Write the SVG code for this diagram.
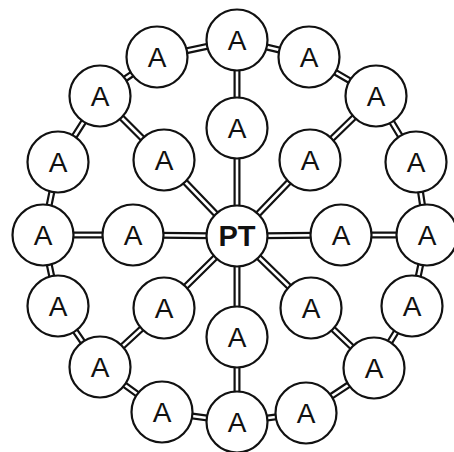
<svg xmlns="http://www.w3.org/2000/svg" width="454" height="452" viewBox="0 0 454 452">
<style>
.o{stroke:#111;stroke-width:7;fill:none}
.i{stroke:#fff;stroke-width:2.6;fill:none}
.n circle{fill:#fff;stroke:#111;stroke-width:2.2}
.n text{font-family:"Liberation Sans",Arial,sans-serif;font-size:28px;fill:#111;text-anchor:middle}
#PT text{font-weight:bold;font-size:29px}
</style>
<defs>
<path id="edges" d="M237,236L237,128M237,236L310,160M237,236L341,235M237,236L311,308M237,236L237,337M237,236L164,308M237,236L133,235M237,236L164,160
M237,128L237,40M310,160L376,96M341,235L427,235M311,308L374,368M237,337L237,422M164,308L100,367M133,235L43,235M164,160L100,96
M237,40L309,57L376,96L416,162L427,235L412,306L374,368L306,413L237,422L162,412L100,367L58,306L43,235L58,162L100,96L157,57Z"/>
</defs>
<g id="connectors">
<use href="#edges" class="o"/>
<use href="#edges" class="i"/>
</g>
<g id="PT" class="n"><circle cx="237" cy="236" r="30.5"/><text x="237" y="246">PT</text></g>
<g id="in-n" class="n"><circle cx="237" cy="128" r="30.5"/><text x="237" y="138">A</text></g>
<g id="in-ne" class="n"><circle cx="310" cy="160" r="30.5"/><text x="310" y="170">A</text></g>
<g id="in-e" class="n"><circle cx="341" cy="235" r="30.5"/><text x="341" y="245">A</text></g>
<g id="in-se" class="n"><circle cx="311" cy="308" r="30.5"/><text x="311" y="318">A</text></g>
<g id="in-s" class="n"><circle cx="237" cy="337" r="30.5"/><text x="237" y="347">A</text></g>
<g id="in-sw" class="n"><circle cx="164" cy="308" r="30.5"/><text x="164" y="318">A</text></g>
<g id="in-w" class="n"><circle cx="133" cy="235" r="30.5"/><text x="133" y="245">A</text></g>
<g id="in-nw" class="n"><circle cx="164" cy="160" r="30.5"/><text x="164" y="170">A</text></g>
<g id="out-1" class="n"><circle cx="237" cy="40" r="30.5"/><text x="237" y="50">A</text></g>
<g id="out-2" class="n"><circle cx="309" cy="57" r="30.5"/><text x="309" y="67">A</text></g>
<g id="out-3" class="n"><circle cx="376" cy="96" r="30.5"/><text x="376" y="106">A</text></g>
<g id="out-4" class="n"><circle cx="416" cy="162" r="30.5"/><text x="416" y="172">A</text></g>
<g id="out-5" class="n"><circle cx="427" cy="235" r="30.5"/><text x="427" y="245">A</text></g>
<g id="out-6" class="n"><circle cx="412" cy="306" r="30.5"/><text x="412" y="316">A</text></g>
<g id="out-7" class="n"><circle cx="374" cy="368" r="30.5"/><text x="374" y="378">A</text></g>
<g id="out-8" class="n"><circle cx="306" cy="413" r="30.5"/><text x="306" y="423">A</text></g>
<g id="out-9" class="n"><circle cx="237" cy="422" r="30.5"/><text x="237" y="432">A</text></g>
<g id="out-10" class="n"><circle cx="162" cy="412" r="30.5"/><text x="162" y="422">A</text></g>
<g id="out-11" class="n"><circle cx="100" cy="367" r="30.5"/><text x="100" y="377">A</text></g>
<g id="out-12" class="n"><circle cx="58" cy="306" r="30.5"/><text x="58" y="316">A</text></g>
<g id="out-13" class="n"><circle cx="43" cy="235" r="30.5"/><text x="43" y="245">A</text></g>
<g id="out-14" class="n"><circle cx="58" cy="162" r="30.5"/><text x="58" y="172">A</text></g>
<g id="out-15" class="n"><circle cx="100" cy="96" r="30.5"/><text x="100" y="106">A</text></g>
<g id="out-16" class="n"><circle cx="157" cy="57" r="30.5"/><text x="157" y="67">A</text></g>
</svg>
